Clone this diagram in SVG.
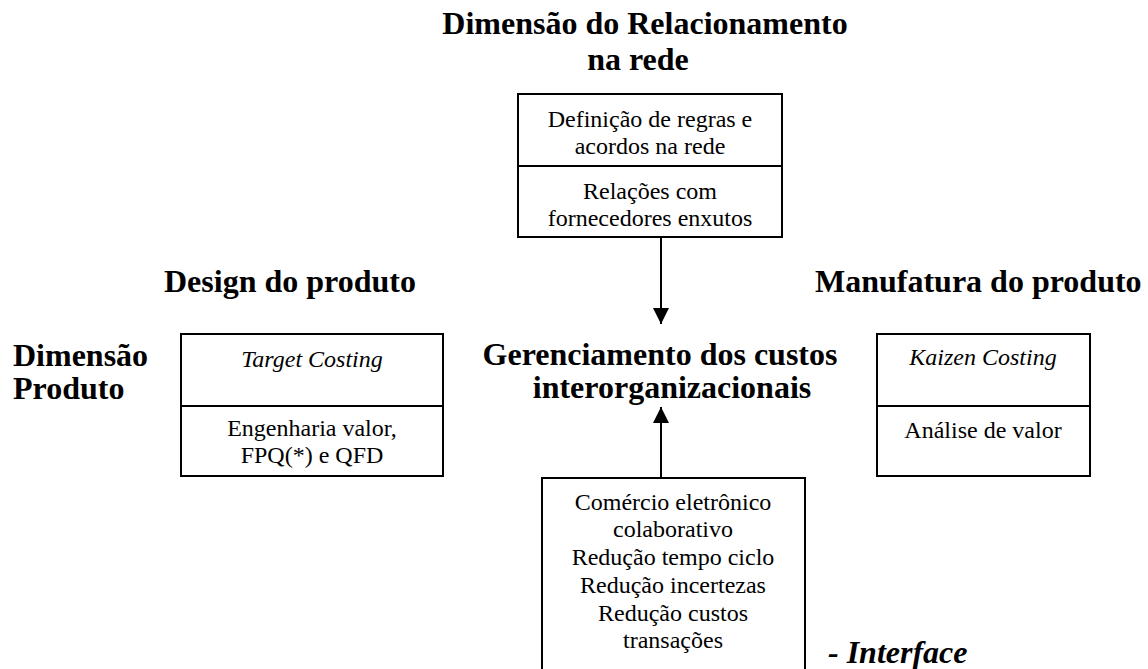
<svg xmlns="http://www.w3.org/2000/svg" width="1148" height="669" viewBox="0 0 1148 669">
<style>
text{font-family:"Liberation Serif",Tinos,"Times New Roman","DejaVu Serif",serif}
.h{font-weight:bold;font-size:32px;fill:#000}
.t{font-size:24px;fill:#000;text-anchor:middle}
.i{font-style:italic}
.box{fill:#fff;stroke:#000;stroke-width:2}
.ln{stroke:#000;stroke-width:2;fill:none}
.c{stroke:#000;stroke-width:2;fill:none;marker-end:url(#ah)}
</style>
<defs>
<marker id="ah" markerWidth="16" markerHeight="17" refX="16" refY="8" orient="auto" markerUnits="userSpaceOnUse" viewBox="0 0 16 16">
<path d="M0,0 L16,8 L0,16 Z" fill="#000"/>
</marker>
</defs>
<rect width="1148" height="669" fill="#fff"/>
<g id="labels">
<text class="h" x="645" y="34" text-anchor="middle" font-size="31.5">Dimensão do Relacionamento</text>
<text class="h" x="638" y="70" text-anchor="middle" font-size="31.5">na rede</text>
<text class="h" x="164" y="292">Design do produto</text>
<text class="h" x="815" y="292">Manufatura do produto</text>
<text class="h" x="13" y="366">Dimensão</text>
<text class="h" x="13" y="399">Produto</text>
<text class="h" x="828" y="663" font-style="italic" font-size="33">- Interface</text>
</g>
<g id="center">
<text class="h" x="660" y="365" text-anchor="middle">Gerenciamento dos custos</text>
<text class="h" x="672" y="398" text-anchor="middle">interorganizacionais</text>
</g>
<g id="top-box">
<rect class="box" x="518" y="94" width="264" height="143"/>
<line class="ln" x1="518" y1="166" x2="782" y2="166"/>
<text class="t" x="650" y="127">Definição de regras e</text>
<text class="t" x="650" y="154">acordos na rede</text>
<text class="t" x="650" y="199">Relações com</text>
<text class="t" x="650" y="226">fornecedores enxutos</text>
</g>
<g id="left-box">
<rect class="box" x="181" y="334" width="262" height="142"/>
<line class="ln" x1="181" y1="406" x2="443" y2="406"/>
<text class="t i" x="312" y="367">Target Costing</text>
<text class="t" x="312" y="436">Engenharia valor,</text>
<text class="t" x="312" y="463">FPQ(*) e QFD</text>
</g>
<g id="right-box">
<rect class="box" x="877" y="334" width="213" height="142"/>
<line class="ln" x1="877" y1="406" x2="1090" y2="406"/>
<text class="t i" x="983" y="365">Kaizen Costing</text>
<text class="t" x="983" y="438">Análise de valor</text>
</g>
<g id="bottom-box">
<rect class="box" x="542" y="478" width="263" height="200"/>
<text class="t" x="673" y="510">Comércio eletrônico</text>
<text class="t" x="673" y="537">colaborativo</text>
<text class="t" x="673" y="565">Redução tempo ciclo</text>
<text class="t" x="673" y="593">Redução incertezas</text>
<text class="t" x="673" y="621">Redução custos</text>
<text class="t" x="673" y="648">transações</text>
</g>
<g id="connectors">
<line class="c" x1="661" y1="237" x2="661" y2="324"/>
<line class="c" x1="661" y1="478" x2="661" y2="407"/>
</g>
</svg>
